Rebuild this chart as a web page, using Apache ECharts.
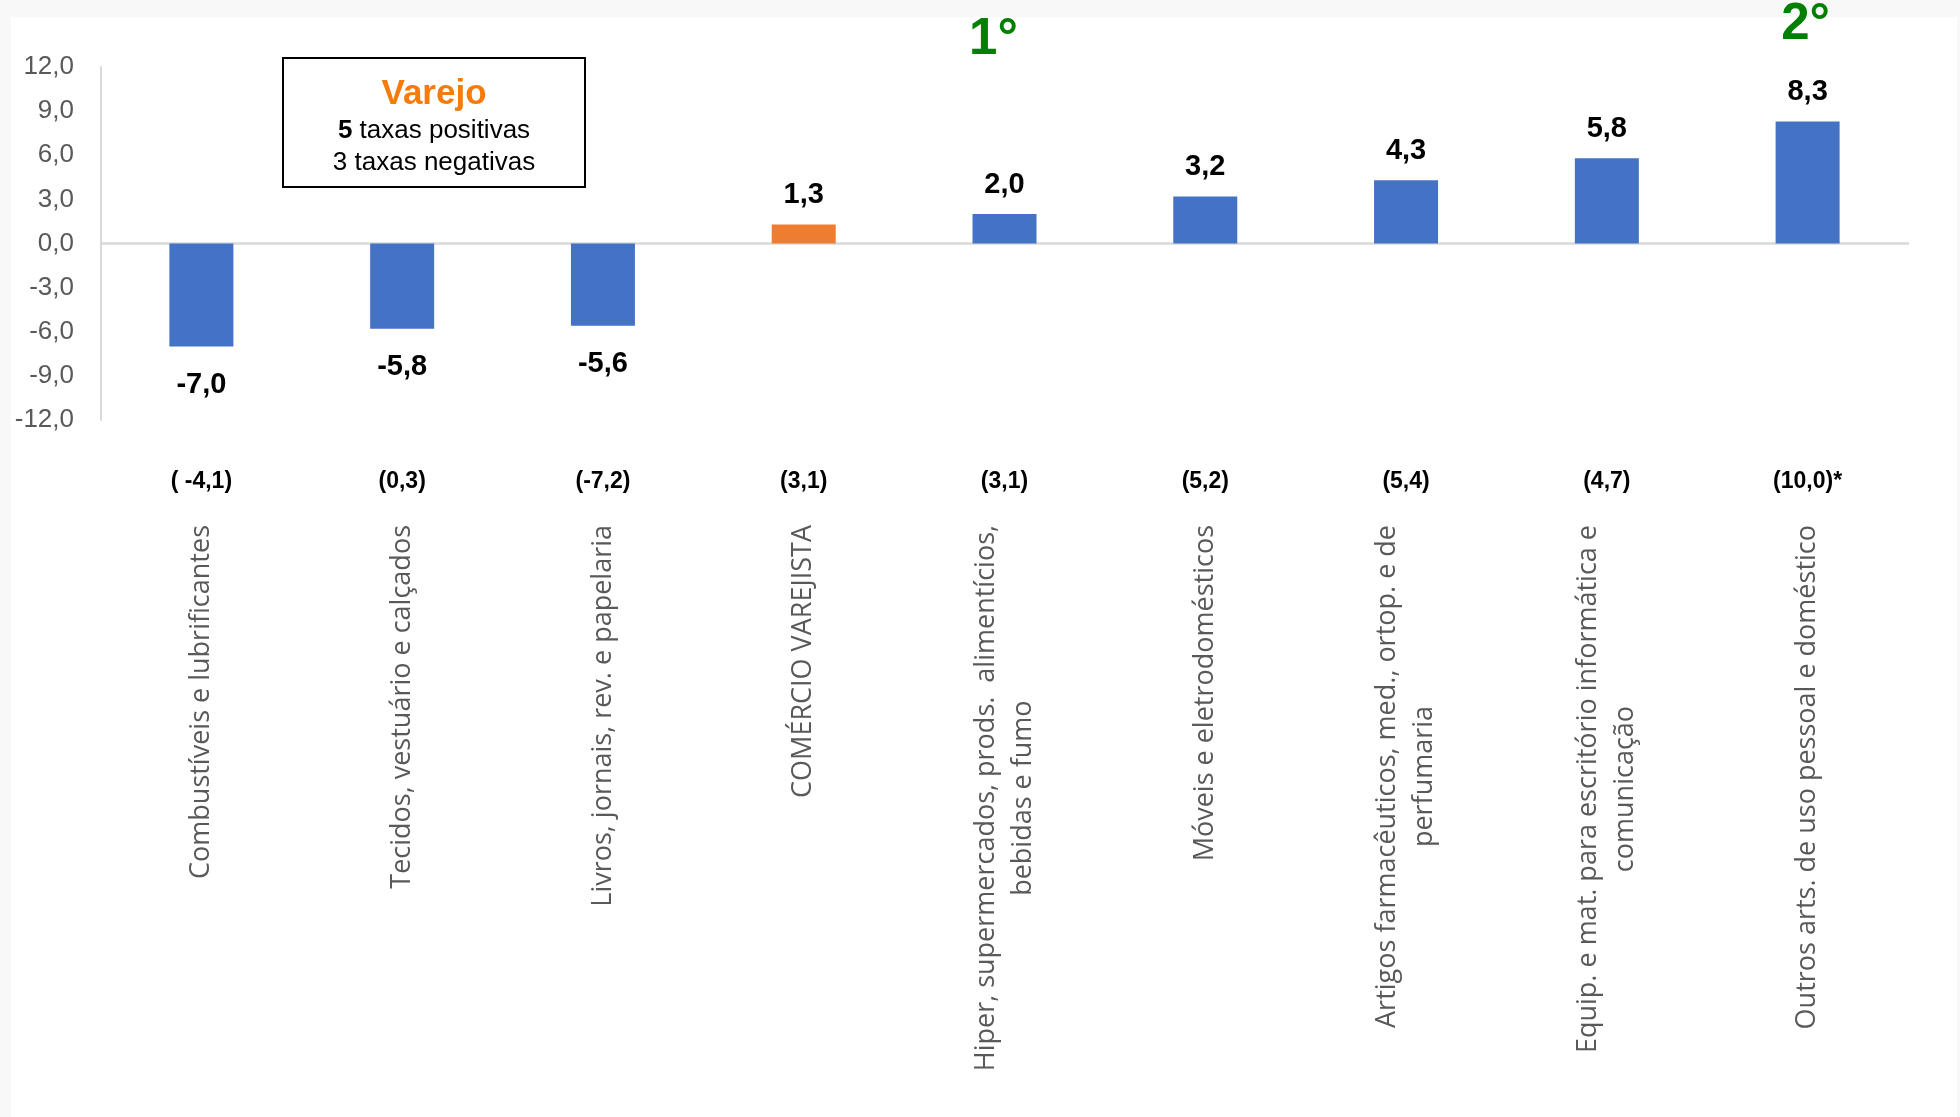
<!DOCTYPE html>
<html>
<head>
<meta charset="utf-8">
<script src="https://cdn.jsdelivr.net/npm/echarts@6/dist/echarts.min.js"></script>
<style>
  html, body { margin: 0; padding: 0; background: #f8f8f8; }
  #chart { width: 1960px; height: 1117px; }
</style>
</head>
<body>
<div id="chart"></div>
<script>
// ---- data ----
const categories = [
  'Combustíveis e lubrificantes',
  'Tecidos, vestuário e calçados',
  'Livros, jornais, rev. e papelaria',
  'COMÉRCIO VAREJISTA',
  'Hiper, supermercados, prods.  alimentícios,\nbebidas e fumo',
  'Móveis e eletrodomésticos',
  'Artigos farmacêuticos, med., ortop. e de\nperfumaria',
  'Equip. e mat. para escritório informática e\ncomunicação',
  'Outros arts. de uso pessoal e doméstico'
];
const values = [-7.0, -5.8, -5.6, 1.3, 2.0, 3.2, 4.3, 5.8, 8.3];
const previousLabels = ['( -4,1)', '(0,3)', '(-7,2)', '(3,1)', '(3,1)', '(5,2)', '(5,4)', '(4,7)', '(10,0)*'];
const highlightCategory = 'COMÉRCIO VAREJISTA';
const yTicks = { min: -12, max: 12, interval: 3 };
const rankLabels = ['1°', '2°'];
const rankCategoryIndex = [4, 8];
const boxTitle = 'Varejo';
const boxPositive = 5;
const boxNegative = 3;

const fmt = v => v.toFixed(1).replace('.', ',');

const chart = echarts.init(document.getElementById('chart'), null, { renderer: 'canvas' });

const arial = "'Liberation Sans', Arial, sans-serif";
const openSans = "'Open Sans', sans-serif";

const barData = values.map((v, i) => ({
  value: v,
  itemStyle: { color: categories[i] === highlightCategory ? '#ED7D31' : '#4472C4' },
  label: { position: v >= 0 ? 'top' : 'bottom', distance: v >= 0 ? 15 : 24 }
}));

const option = {
  backgroundColor: 'transparent',
  animation: false,
  grid: { left: 101, right: 52, top: 67, bottom: 697, containLabel: false, outerBoundsMode: 'none' },
  xAxis: [
    {
      type: 'category',
      data: categories,
      position: 'bottom',
      axisLine: { show: true, onZero: true, lineStyle: { color: '#d9d9d9', width: 2.5 } },
      axisTick: { show: false },
      splitLine: { show: false },
      axisLabel: {
        interval: 0,
        rotate: 90,
        margin: 105,
        hideOverlap: false,
        color: '#595959',
        fontFamily: openSans,
        fontSize: 27,
        lineHeight: 37,
        formatter: v => v.split('\n').map(s => '{c|' + s + '}').join('\n'),
        rich: { c: { align: 'center', color: '#595959', fontFamily: openSans, fontSize: 27, lineHeight: 37 } }
      }
    },
    {
      type: 'category',
      data: previousLabels,
      position: 'bottom',
      axisLine: { show: false, onZero: false },
      axisTick: { show: false },
      splitLine: { show: false },
      axisLabel: {
        interval: 0,
        margin: 50,
        color: '#000000',
        fontFamily: arial,
        fontWeight: 'bold',
        fontSize: 23
      }
    }
  ],
  yAxis: {
    type: 'value',
    min: yTicks.min,
    max: yTicks.max,
    interval: yTicks.interval,
    axisLine: { show: true, onZero: false, lineStyle: { color: '#d9d9d9', width: 2 } },
    axisTick: { show: false },
    splitLine: { show: false },
    axisLabel: {
      margin: 27,
      color: '#595959',
      fontFamily: arial,
      fontSize: 26,
      formatter: v => fmt(v)
    }
  },
  series: [{
    type: 'bar',
    data: barData,
    barWidth: 64,
    xAxisIndex: 0,
    label: {
      show: true,
      color: '#000000',
      fontFamily: arial,
      fontWeight: 'bold',
      fontSize: 29,
      formatter: p => fmt(p.value)
    }
  }]
};

chart.setOption(option);

// annotations: white panel, text box, rank labels
const rankTexts = rankLabels.map((t, k) => {
  const x = chart.convertToPixel({ xAxisIndex: 0 }, categories[rankCategoryIndex[k]]);
  return {
    type: 'text',
    z: 100,
    x: x + (k === 0 ? -11 : -2),
    y: k === 0 ? 40 : 25,
    style: {
      text: t,
      fill: '#008000',
      font: "bold 51px " + arial,
      align: 'center',
      verticalAlign: 'middle'
    }
  };
});

chart.setOption({
  graphic: [
    {
      type: 'rect',
      z: -100,
      shape: { x: 11, y: 17, width: 1946, height: 1100 },
      style: { fill: '#ffffff' },
      silent: true
    },
    {
      type: 'rect',
      z: 100,
      shape: { x: 283, y: 58, width: 302, height: 129 },
      style: { fill: '#ffffff', stroke: '#000000', lineWidth: 2 }
    },
    {
      type: 'text',
      z: 101,
      x: 434, y: 94,
      style: {
        text: boxTitle,
        fill: '#F47B0C',
        font: "bold 35px " + arial,
        align: 'center', verticalAlign: 'middle'
      }
    },
    {
      type: 'text',
      z: 101,
      x: 434, y: 131,
      style: {
        text: '{b|' + boxPositive + '}{r| taxas positivas}',
        rich: {
          b: { font: "bold 26px " + arial, fill: '#000' },
          r: { font: "26px " + arial, fill: '#000' }
        },
        align: 'center', verticalAlign: 'middle'
      }
    },
    {
      type: 'text',
      z: 101,
      x: 434, y: 163,
      style: {
        text: boxNegative + ' taxas negativas',
        fill: '#000',
        font: "26px " + arial,
        align: 'center', verticalAlign: 'middle'
      }
    }
  ].concat(rankTexts)
});
</script>
</body>
</html>
